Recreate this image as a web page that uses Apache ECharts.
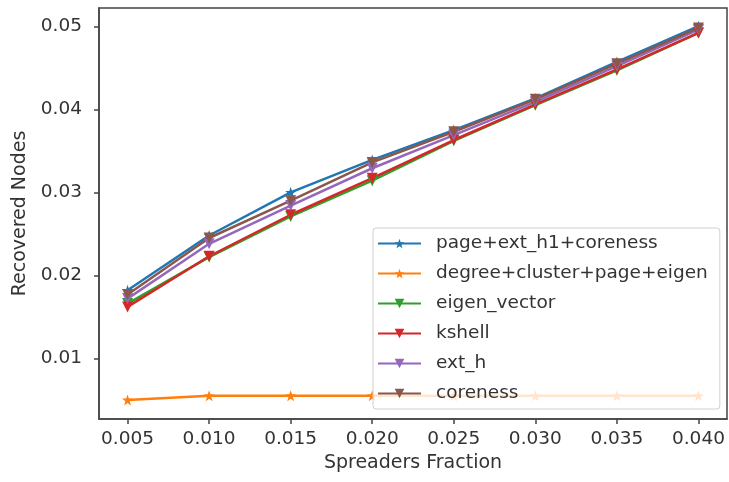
<!DOCTYPE html>
<html>
<head>
<meta charset="utf-8">
<title>Recovered Nodes</title>
<script src="https://cdn.jsdelivr.net/npm/echarts@6/dist/echarts.min.js"></script>
<style>
  html, body { margin: 0; padding: 0; background: #fff; }
  #chart { width: 729px; height: 482px; }
</style>
</head>
<body>
<div id="chart"></div>
<script>
const fractions = [0.005, 0.010, 0.015, 0.020, 0.025, 0.030, 0.035, 0.040]
const xTicks = [0.005, 0.010, 0.015, 0.020, 0.025, 0.030, 0.035, 0.040]
const yTicks = [0.01, 0.02, 0.03, 0.04, 0.05]

const seriesNames = ['page+ext_h1+coreness', 'degree+cluster+page+eigen', 'eigen_vector', 'kshell', 'ext_h', 'coreness']
const pageExtCore = [0.0182, 0.0248, 0.0300, 0.0339, 0.0375, 0.0413, 0.0457, 0.0500]
const degreeClusterPageEigen = [0.0050, 0.0055, 0.0055, 0.0055, 0.0055, 0.0055, 0.0055, 0.0055]
const eigenVector = [0.0166, 0.0222, 0.0271, 0.0314, 0.0362, 0.0405, 0.0447, 0.0492]
const kshell = [0.0162, 0.0223, 0.0273, 0.0317, 0.0363, 0.0406, 0.0448, 0.0492]
const extH = [0.0172, 0.0238, 0.0284, 0.0329, 0.0369, 0.0409, 0.0452, 0.0496]
const coreness = [0.0177, 0.0245, 0.0290, 0.0336, 0.0373, 0.0412, 0.0455, 0.0498]

const colorList = ['#1f77b4', '#ff7f0e', '#2ca02c', '#d62728', '#9467bd', '#8c564b']
const star = 'path://M0,-10L2.35,-3.24L9.51,-3.09L3.8,1.24L5.88,8.09L0,4L-5.88,8.09L-3.8,1.24L-9.51,-3.09L-2.35,-3.24Z'
const textColor = '#333'
const font = 'DejaVu Sans'

const makeSeries = (name, values, color, marker) => ({
  name: name,
  type: 'line',
  data: values.map((v, i) => [fractions[i], v]),
  color: color,
  symbol: marker === 'star' ? star : 'triangle',
  symbolRotate: marker === 'star' ? 0 : 180,
  symbolSize: 11,
  showSymbol: true,
  lineStyle: { width: 2.5, color: color },
  itemStyle: { color: color },
  emphasis: { disabled: true },
  animation: false,
})

const chart = echarts.init(document.getElementById('chart'))

const option = {
  backgroundColor: '#fff',
  animation: false,
  grid: {
    left: 99,
    right: 2,
    top: 8,
    bottom: 63,
    show: true,
    borderColor: '#444',
    borderWidth: 1.5,
  },
  legend: {
    orient: 'vertical',
    left: 373,
    top: 228,
    padding: [6, 12, 6, 4],
    itemWidth: 43,
    itemHeight: 12,
    itemGap: 11,
    backgroundColor: 'rgba(255,255,255,0.8)',
    borderColor: '#d0d0d0',
    borderWidth: 1,
    borderRadius: 3,
    textStyle: {
      fontFamily: font,
      fontSize: 18.5,
      color: textColor,
      padding: [0, 0, 0, 10],
    },
    data: seriesNames,
  },
  xAxis: {
    type: 'value',
    min: 0.00325,
    max: 0.04175,
    name: 'Spreaders Fraction',
    nameLocation: 'middle',
    nameGap: 35,
    nameTextStyle: { fontFamily: font, fontSize: 19, color: textColor },
    splitLine: { show: false },
    axisLine: { show: true, lineStyle: { color: '#444', width: 1.5 } },
    axisTick: { show: true, inside: false, length: 5, customValues: xTicks, lineStyle: { color: '#444', width: 1.5 } },
    axisLabel: {
      customValues: xTicks,
      margin: 11,
      fontFamily: font,
      fontSize: 18.5,
      color: textColor,
      formatter: (v) => v.toFixed(3),
    },
  },
  yAxis: {
    type: 'value',
    min: 0.0027,
    max: 0.0522,
    name: 'Recovered Nodes',
    nameLocation: 'middle',
    nameGap: 68,
    nameTextStyle: { fontFamily: font, fontSize: 19, color: textColor },
    splitLine: { show: false },
    axisLine: { show: true, lineStyle: { color: '#444', width: 1.5 } },
    axisTick: { show: true, inside: false, length: 5, customValues: yTicks, lineStyle: { color: '#444', width: 1.5 } },
    axisLabel: {
      customValues: yTicks,
      margin: 17,
      fontFamily: font,
      fontSize: 18.5,
      color: textColor,
      formatter: (v) => v.toFixed(2),
    },
  },
  series: [
    makeSeries(seriesNames[0], pageExtCore, colorList[0], 'star'),
    makeSeries(seriesNames[1], degreeClusterPageEigen, colorList[1], 'star'),
    makeSeries(seriesNames[2], eigenVector, colorList[2], 'tri'),
    makeSeries(seriesNames[3], kshell, colorList[3], 'tri'),
    makeSeries(seriesNames[4], extH, colorList[4], 'tri'),
    makeSeries(seriesNames[5], coreness, colorList[5], 'tri'),
  ],
}

chart.setOption(option)
</script>
</body>
</html>
